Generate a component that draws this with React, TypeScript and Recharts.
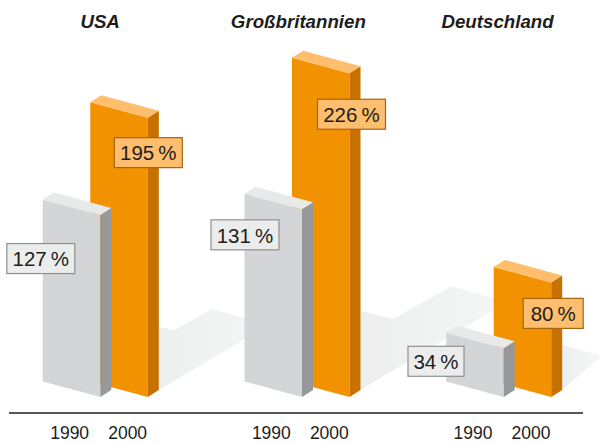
import { BarChart, Bar, XAxis, YAxis, LabelList, ReferenceLine } from 'recharts';

const COUNTRIES = ['USA', 'Großbritannien', 'Deutschland'];
const VALUES_1990 = [127, 131, 34];
const VALUES_2000 = [195, 226, 80];
const YEARS = ['1990', '2000'];

const rows = COUNTRIES.map((country, i) => ({ country, y1990: VALUES_1990[i], y2000: VALUES_2000[i] }));

const FONT = '"Liberation Sans", sans-serif';
const INK = '#1d1d1b';
const GREY = { front: '#d4d5d7', side: '#97989a', top: '#e8e9e9', box: '#ebecec', edge: '#8f9090' };
const ORANGE = { front: '#f39200', side: '#c77100', top: '#ffbe6e', box: '#ffbe6e', edge: '#a5650f' };

// depth of the fake 3d box
const DX = 11;
const DY = 7;
const SKEW = 15.5;

// label placement from the bar's top right corner: dx, dy, box width
const LABELS_1990 = [[-59.5, 43.5, 68], [-57, 25.5, 68], [-67.7, 13, 56]];
const LABELS_2000 = [[0.5, 35, 68], [2, 41, 68], [2, 31, 60]];

// floor shadows, measured from the back corner of the bar's foot
const SHADOWS = [
  [[0, 0], [0, -63], [16, -60], [53, -81], [110, -65], [110, -65]],
  [[0, 0], [0, -79], [33, -71], [91, -104], [150, -87], [150, -90]],
  [[0, 0], [0, -45], [39, -34]],
];

const pts = (list: number[][]) => list.map((p) => p.join(',')).join(' ');

function box3d(colors: typeof GREY, withShadow: boolean) {
  return (props: any) => {
    const { x, y, width: w, height: h, index } = props;
    const r = x + w;
    const b = y + h;
    return (
      <g>
        {withShadow && (
          <polygon
            points={pts(SHADOWS[index].map(([sx, sy]) => [r + DX + sx, b - DY + sy]))}
            fill="url(#floorShadow)"
          />
        )}
        <polygon points={pts([[x, y - SKEW], [r, y], [r, b], [x, b - SKEW]])} fill={colors.front} />
        <polygon points={pts([[r, y], [r + DX, y - DY], [r + DX, b - DY], [r, b]])} fill={colors.side} />
        <polygon points={pts([[x, y - SKEW], [x + DX, y - SKEW - DY], [r + DX, y - DY], [r, y]])} fill={colors.top} />
      </g>
    );
  };
}

function valueLabel(colors: typeof GREY, places: number[][]) {
  return (props: any) => {
    const { x, y, width, value, index } = props;
    const [dx, dy, bw] = places[index];
    const cx = x + width + dx;
    const cy = y + dy;
    return (
      <g>
        <rect x={cx - bw / 2} y={cy - 15} width={bw} height={30} fill={colors.box} stroke={colors.edge} strokeWidth={1.2} />
        <text x={cx} y={cy + 7.7} textAnchor="middle" fontFamily={FONT} fontSize={20.5} fill={INK}>
          {`${value}\u2009%`}
        </text>
      </g>
    );
  };
}

function YearTick({ x }: any) {
  return (
    <g>
      {YEARS.map((year, i) => (
        <text key={year} x={x - 25.5 + i * 58} y={439} textAnchor="middle" fontFamily={FONT} fontSize={17.5} fill={INK}>
          {year}
        </text>
      ))}
    </g>
  );
}

const TITLE_NUDGE = [5, 1.5, -1];

function TitleTick({ x, payload, index }: any) {
  return (
    <text x={x + TITLE_NUDGE[index]} y={28} textAnchor="middle" fontFamily={FONT} fontWeight="bold" fontStyle="italic" fontSize={18.7} fill={INK}>
      {payload.value}
    </text>
  );
}

export default function App() {
  return (
    <div style={{ position: 'absolute', left: 0, top: 0, width: 602, height: 443, background: '#fff' }}>
      <BarChart
        width={602}
        height={443}
        data={rows}
        barSize={57.5}
        barGap={-105}
        margin={{ top: 0, right: 2.6, bottom: 0, left: -5.7 }}
      >
        <defs>
          <linearGradient id="floorShadow" x1="0" y1="0" x2="1" y2="0">
            <stop offset="0" stopColor="#edeeee" />
            <stop offset="1" stopColor="#f5f6f6" />
          </linearGradient>
        </defs>
        <XAxis dataKey="country" height={30} axisLine={false} tickLine={false} interval={0} tick={<YearTick />} />
        <XAxis xAxisId="names" dataKey="country" orientation="top" height={30} axisLine={false} tickLine={false} interval={0} tick={<TitleTick />} />
        <YAxis hide domain={[-11.17, 256.18]} />
        <ReferenceLine
          y={-11.17}
          shape={(p: any) => <line x1={9} x2={583} y1={p.y1 ?? p.y} y2={p.y2 ?? p.y} stroke={INK} strokeWidth={1.3} />}
        />
        {/* 2000 first so the 1990 bar paints over it, the gap swaps their sides */}
        <Bar dataKey="y2000" shape={box3d(ORANGE, true)} isAnimationActive={false}>
          <LabelList dataKey="y2000" content={valueLabel(ORANGE, LABELS_2000)} />
        </Bar>
        <Bar dataKey="y1990" shape={box3d(GREY, false)} isAnimationActive={false}>
          <LabelList dataKey="y1990" content={valueLabel(GREY, LABELS_1990)} />
        </Bar>
      </BarChart>
    </div>
  );
}
